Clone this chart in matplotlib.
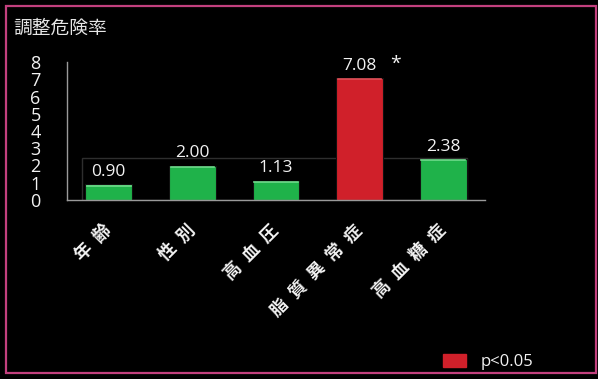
import matplotlib
matplotlib.use("Agg")
import matplotlib.pyplot as plt
from matplotlib.patches import Rectangle, Patch

plt.rcParams['font.family'] = ['Open Sans', 'Noto Sans CJK JP', 'DejaVu Sans']

categories = ["年 齢", "性 別", "高 血 圧", "脂 質 異 常 症", "高 血 糖 症"]
values = [0.90, 2.00, 1.13, 7.08, 2.38]
significant = [False, False, False, True, False]
yticks = [0, 1, 2, 3, 4, 5, 6, 7, 8]
ylabel = "調整危険率"
legend_label = "p<0.05"

GREEN = "#1fb24a"
RED = "#d0202a"
TXT = "#f2f2f2"

fig = plt.figure(figsize=(5.98, 3.79), dpi=100, facecolor="black")
ax = fig.add_axes([67/598, 1-200/379, (485-67)/598, (200-62)/379])
ax.set_facecolor("black")

x = list(range(len(values)))
w = 0.56
colors = [RED if s else GREEN for s in significant]

# faint backdrop box
ax.add_patch(Rectangle((x[0] - w/2 - 0.04, 0), (x[-1] + w/2) - (x[0] - w/2 - 0.04),
                       values[-1] + 0.05, facecolor="none", edgecolor="#2e2e2e",
                       linewidth=1.0, zorder=1))

bars = ax.bar(x, values, width=w, color=colors, edgecolor="#111111", linewidth=0.8, zorder=2)
for b, c in zip(bars, colors):
    ax.plot([b.get_x() + 0.02, b.get_x() + b.get_width() - 0.02], [b.get_height() - 0.08]*2,
            color="#6fdc8c" if c == GREEN else "#e05058", lw=1.2, zorder=3)

for xi, v, s in zip(x, values, significant):
    ax.text(xi, v + 0.25, f"{v:.2f}", ha="center", va="bottom", color=TXT, fontsize=12.5)
    if s:
        ax.text(xi + 0.43, v + 0.32, "*", ha="center", va="bottom", color=TXT, fontsize=14)

ax.set_xlim(-0.5, len(values) - 0.5)
ax.set_ylim(0, 8)
ax.set_yticks(yticks)
ax.set_yticklabels([str(t) for t in yticks], fontsize=13, color=TXT)
ax.tick_params(axis="y", length=0, pad=19)
ax.set_xticks(x)
ax.set_xticklabels([c.replace(" ", "\u2002") for c in categories],
                   rotation=45, ha="right", va="center", rotation_mode="anchor",
                   fontsize=12.5, fontweight="bold", color=TXT,
                   family=['Noto Sans CJK JP', 'DejaVu Sans'])
ax.tick_params(axis="x", length=0, pad=20)

for sp in ["top", "right"]:
    ax.spines[sp].set_visible(False)
ax.spines["left"].set_color("#9a9a9a")
ax.spines["bottom"].set_color("#9a9a9a")
ax.spines["left"].set_linewidth(1.0)
ax.spines["bottom"].set_linewidth(1.0)

fig.text(13/598, 1-28/379, ylabel, ha="left", va="center", color="#e6e6e6", fontsize=13.5,
         family=['Noto Sans CJK JP', 'DejaVu Sans'])

leg = fig.legend(handles=[Patch(facecolor=RED, edgecolor=RED, label=legend_label)],
                 loc="center left", bbox_to_anchor=(428/598, 1-362/379), frameon=False,
                 fontsize=12, labelcolor=TXT, handlelength=1.35, handleheight=0.8,
                 handletextpad=0.9)

fig.patches.append(Rectangle((6/598, 6/379), (596-6)/598, (373-6)/379,
                             transform=fig.transFigure, facecolor="none",
                             edgecolor="#c2407e", linewidth=1.6))

fig.savefig("out.png", dpi=100, facecolor="black")
